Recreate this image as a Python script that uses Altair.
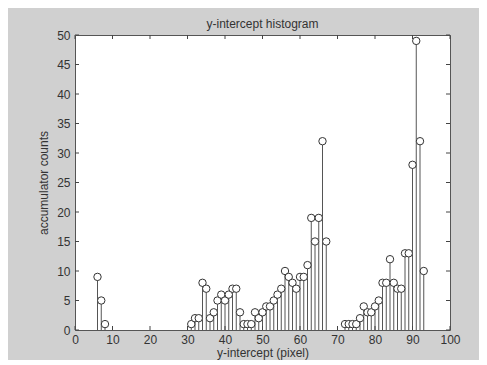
import altair as alt
import pandas as pd

intercepts = [6, 7, 8,
              31, 32, 33, 34, 35, 36, 37, 38, 39, 40, 41, 42, 43, 44, 45, 46, 47, 48, 49,
              50, 51, 52, 53, 54, 55, 56, 57, 58, 59, 60, 61, 62, 63, 64, 65, 66, 67,
              72, 73, 74, 75, 76, 77, 78, 79, 80, 81, 82, 83, 84, 85, 86, 87, 88, 89,
              90, 91, 92, 93]
counts = [9, 5, 1,
          1, 2, 2, 8, 7, 2, 3, 5, 6, 5, 6, 7, 7, 3, 1, 1, 1, 3, 2,
          3, 4, 4, 5, 6, 7, 10, 9, 8, 7, 9, 9, 11, 19, 15, 19, 32, 15,
          1, 1, 1, 1, 2, 4, 3, 3, 4, 5, 8, 8, 12, 8, 7, 7, 13, 13,
          28, 49, 32, 10]
x_ticks = [0, 10, 20, 30, 40, 50, 60, 70, 80, 90, 100]
y_ticks = [0, 5, 10, 15, 20, 25, 30, 35, 40, 45, 50]

W, H = 375, 295
df = pd.DataFrame({"x": intercepts, "c": counts})
xt = pd.DataFrame({"t": x_ticks})
yt = pd.DataFrame({"t": y_ticks})

xs = alt.Scale(domain=[0, 100], nice=False)
ys = alt.Scale(domain=[0, 50], nice=False)

xaxis = alt.Axis(values=x_ticks, tickSize=0, grid=False, domain=False,
                 labelOverlap=False, labelFlush=False,
                 title="y-intercept (pixel)", labelPadding=4, titlePadding=2)
yaxis = alt.Axis(values=y_ticks, tickSize=0, grid=False, domain=False,
                 labelOverlap=False, labelFlush=False,
                 title="accumulator counts", labelPadding=5, titlePadding=6)

base = alt.Chart(df)
stems = base.mark_rule(color="#555555", strokeWidth=1).encode(
    x=alt.X("x:Q", scale=xs, axis=xaxis),
    y=alt.Y("c:Q", scale=ys, axis=yaxis),
    y2=alt.datum(0),
)
points = base.mark_point(shape="circle", filled=True, fill="white", stroke="#333333",
                         strokeWidth=1, size=55, opacity=1).encode(
    x=alt.X("x:Q", scale=xs, axis=xaxis),
    y=alt.Y("c:Q", scale=ys, axis=yaxis),
)

tick_col = "#444444"
bx = alt.Chart(xt).mark_rule(color=tick_col).encode(
    x=alt.X("t:Q", scale=xs, axis=xaxis), y=alt.value(H), y2=alt.value(H - 4))
tx = alt.Chart(xt).mark_rule(color=tick_col).encode(
    x=alt.X("t:Q", scale=xs, axis=xaxis), y=alt.value(0), y2=alt.value(4))
ly = alt.Chart(yt).mark_rule(color=tick_col).encode(
    y=alt.Y("t:Q", scale=ys, axis=yaxis), x=alt.value(0), x2=alt.value(4))
ry = alt.Chart(yt).mark_rule(color=tick_col).encode(
    y=alt.Y("t:Q", scale=ys, axis=yaxis), x=alt.value(W), x2=alt.value(W - 4))

chart = alt.layer(stems, points, bx, tx, ly, ry).properties(
    width=W, height=H,
    title=alt.TitleParams("y-intercept histogram", fontSize=12, fontWeight="normal",
                          font="Liberation Sans", color="#333333", offset=5, dy=7),
    autosize=alt.AutoSizeParams(type="none"),
    padding={"left": 67, "top": 27, "right": 29, "bottom": 30},
    background="#d0d0d0",
).configure_view(
    fill="white", stroke="#555555", strokeWidth=1
).configure_axis(
    labelFont="Liberation Sans", titleFont="Liberation Sans",
    labelFontSize=12, titleFontSize=12, titleFontWeight="normal",
    labelColor="#333333", titleColor="#333333",
)

chart.save("out.html", embed_options={"renderer": "svg", "actions": False})
